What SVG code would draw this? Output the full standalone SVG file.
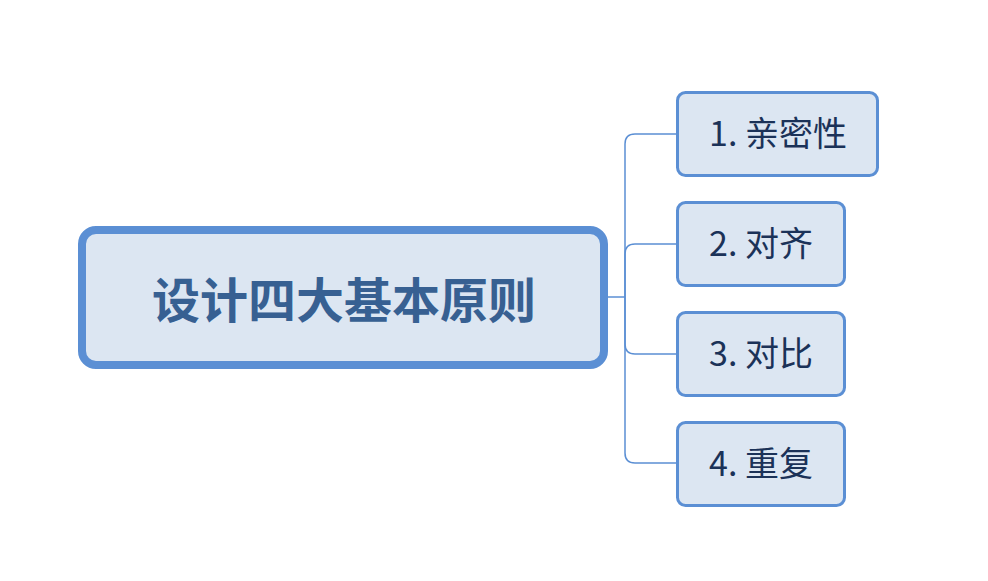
<svg xmlns="http://www.w3.org/2000/svg" width="988" height="581" viewBox="0 0 988 581">
<style>
.conn{fill:none;stroke:#5b8fd4;stroke-width:1.5}
.child rect{fill:#dce6f2;stroke:#5b8fd4;stroke-width:3}
.child text{font-family:"Noto Sans CJK SC","Microsoft YaHei",sans-serif;font-size:34px;fill:#1b3258;text-anchor:middle}
</style>
<rect width="988" height="581" fill="#ffffff"/>
<g id="connectors">
<path class="conn" d="M608,297 H625"/>
<path class="conn" d="M676,134 H635 Q625,134 625,144 V453 Q625,463 635,463 H676"/>
<path class="conn" d="M676,244 H635 Q625,244 625,254 V297"/>
<path class="conn" d="M676,354 H635 Q625,354 625,344 V297"/>
</g>
<g id="root">
<rect x="82" y="230" width="522" height="135" rx="14" fill="#dce6f2" stroke="#5b8fd4" stroke-width="8"/>
<text x="344" y="318" font-family="'Noto Sans CJK SC','Microsoft YaHei',sans-serif" font-size="48" font-weight="bold" fill="#376092" text-anchor="middle">设计四大基本原则</text>
</g>
<g id="n1" class="child">
<rect x="677.5" y="92.5" width="200" height="83" rx="8"/>
<text x="778" y="146">1. 亲密性</text>
</g>
<g id="n2" class="child">
<rect x="677.5" y="202.5" width="167" height="83" rx="8"/>
<text x="761" y="256">2. 对齐</text>
</g>
<g id="n3" class="child">
<rect x="677.5" y="312.5" width="167" height="83" rx="8"/>
<text x="761" y="366">3. 对比</text>
</g>
<g id="n4" class="child">
<rect x="677.5" y="422.5" width="167" height="83" rx="8"/>
<text x="761" y="476">4. 重复</text>
</g>
</svg>
